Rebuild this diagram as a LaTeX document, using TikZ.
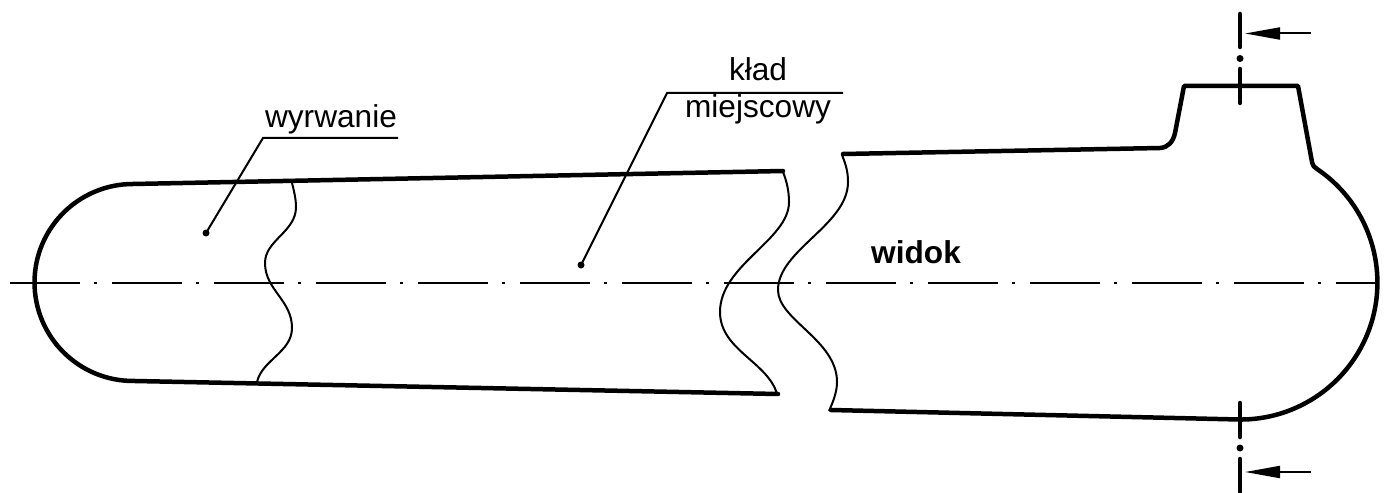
\documentclass[tikz,border=0pt]{standalone}
\usepackage{fontspec}
\setmainfont{Liberation Sans}
\usetikzlibrary{arrows.meta}

\begin{document}
\begin{tikzpicture}
          [x=0.02cm, y=-0.02cm,
          contour/.style={draw, line width=0.09cm, line join=round, line cap=round},
          brk/.style={draw, line width=0.04cm},
          centerline/.style={draw, line width=0.04cm, dash pattern=on 1.4cm off 0.29cm on 0.06cm off 0.29cm},
          cutline/.style={draw, line width=0.09cm, line cap=round},
          viewarrow/.style={draw, line width=0.04cm, {Triangle[length=0.7cm, width=0.24cm]}-},
          leader/.style={draw, line width=0.04cm},
          dot/.style={circle, fill=black, inner sep=0pt, minimum size=0.14cm},
          caption/.style={anchor=base, inner sep=0pt, font=\fontsize{18}{22}\selectfont}]

          \useasboundingbox (0,0) rectangle (1388,493);

          \path [centerline] (10,283) -- (1376,283);

          \path [contour] (783,171) -- (133,184) arc [start angle=90, end angle=270, radius=1.97cm] -- (778,394);
          \path [contour] (843,154) -- (1160,148) .. controls (1168,147.5) and (1173,142) .. (1175,133)
              -- (1184,86) -- (1298,86) -- (1312,162) .. controls (1313,166) and (1314,167) .. (1317,169)
              arc [start angle=56, end angle=-90, radius=2.74cm] -- (831,410);

          \path [brk] (292,183) .. controls (294,191) and (296,199) .. (296,207)
              .. controls (296,232) and (265,240) .. (265,263)
              .. controls (265,290) and (292,300) .. (292,328)
              .. controls (292,352) and (262,360) .. (257,382);
          \path [brk] (783,172) .. controls (787,182) and (789,192) .. (789,202)
              .. controls (789,240) and (720,265) .. (720,312)
              .. controls (720,350) and (768,362) .. (777,394);
          \path [brk] (842,155) .. controls (846,165) and (848,172) .. (848,182)
              .. controls (848,225) and (778,250) .. (778,290)
              .. controls (778,320) and (837,340) .. (837,382)
              .. controls (837,392) and (833,402) .. (829,411);

          \node [dot] (wyrwaniedot) at (206,233) {};
          \node [dot] (kladdot) at (581,265) {};
          \coordinate (wyrwaniekink) at (263,138);
          \coordinate (wyrwanieend) at (398,138);
          \coordinate (kladkink) at (667,93);
          \coordinate (kladend) at (843,93);
          \path [leader] (wyrwaniedot.center) -- (wyrwaniekink) -- (wyrwanieend);
          \path [leader] (kladdot.center) -- (kladkink) -- (kladend);

          \node [caption] (wyrwanie) at (331,128) {wyrwanie};
          \node [caption] (klad) at (758,81) {kład};
          \node [caption] (miejscowy) at (758,118) {miejscowy};
          \node [caption, font=\fontsize{18}{22}\selectfont\bfseries] (widok) at (916,263) {widok};

          \coordinate (topcut) at (1245,33.5);
          \coordinate (toptail) at (1311,33.5);
          \coordinate (botcut) at (1245,472);
          \coordinate (bottail) at (1311,472);
          \path [viewarrow] (topcut) -- (toptail);
          \path [viewarrow] (botcut) -- (bottail);

          \path [cutline] (1240,14) -- (1240,47);
          \path [cutline] (1240,69) -- (1240,103);
          \path [cutline] (1240,403) -- (1240,437);
          \path [cutline] (1240,459) -- (1240,492);
          \node [dot] (topdot) at (1240,58.5) {};
          \node [dot] (botdot) at (1240,448) {};
  \end{tikzpicture}
\end{document}
